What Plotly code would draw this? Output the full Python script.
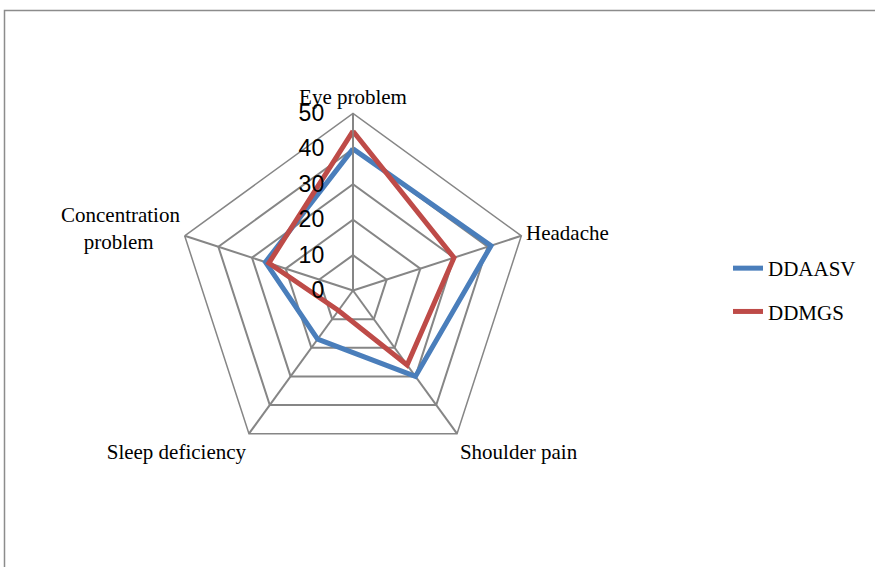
import plotly.graph_objects as go

categories = ["Eye problem", "Headache", "Shoulder pain", "Sleep deficiency",
              "Concentration<br>problem" + "\u00a0" * 5]
ddaasv = [40, 41, 30, 17, 26]
ddmgs = [45, 30, 26, 7, 25]
radial_ticks = [0, 10, 20, 30, 40, 50]

def closed(v):
    return list(v) + [v[0]]

fig = go.Figure()
fig.add_trace(go.Scatterpolar(
    r=closed(ddaasv), theta=closed(categories), mode="lines", name="DDAASV",
    line=dict(color="#4A7EBB", width=5), legendgroup="a"))
fig.add_trace(go.Scatterpolar(
    r=closed(ddmgs), theta=closed(categories), mode="lines", name="DDMGS",
    line=dict(color="#BE4B48", width=5), legendgroup="b"))

W, H = 875, 567
cx, cy, R = 353, 290.5, 177
fig.update_layout(
    width=W, height=H,
    margin=dict(l=0, r=0, t=0, b=0),
    paper_bgcolor="white", plot_bgcolor="white",
    showlegend=True,
    legend=dict(x=728 / W, y=(H - 290) / H, yanchor="middle", xanchor="left",
                font=dict(family="Liberation Serif", size=21, color="black"),
                tracegroupgap=13, bgcolor="rgba(0,0,0,0)"),
    polar=dict(
        domain=dict(x=[(cx - R) / W, (cx + R) / W], y=[(H - cy - R) / H, (H - cy + R) / H]),
        bgcolor="white",
        gridshape="linear",
        radialaxis=dict(range=[0, 50], tickvals=radial_ticks, angle=90, tickangle=90,
                        side="counterclockwise", showline=True, linecolor="#868686", linewidth=1.5,
                        gridcolor="#868686", gridwidth=1.5,
                        ticks="outside", ticklen=20, tickcolor="rgba(0,0,0,0)",
                        tickfont=dict(family="Liberation Sans", size=23, color="black")),
        angularaxis=dict(direction="clockwise", rotation=90, showline=True,
                         linecolor="#868686", linewidth=1.5, gridcolor="#868686", gridwidth=1.5,
                         ticks="",
                         tickfont=dict(family="Liberation Serif", size=21, color="black")),
    ),
    shapes=[dict(type="rect", xref="paper", yref="paper",
                 x0=4.5 / W, x1=1.2, y0=-0.2, y1=(H - 10.5) / H,
                 line=dict(color="#8c8c8c", width=1.5), fillcolor="rgba(0,0,0,0)")],
)
fig.write_html("out.html", config={"displayModeBar": False},
               post_script="document.body.style.margin='0';document.body.style.overflow='hidden';")
